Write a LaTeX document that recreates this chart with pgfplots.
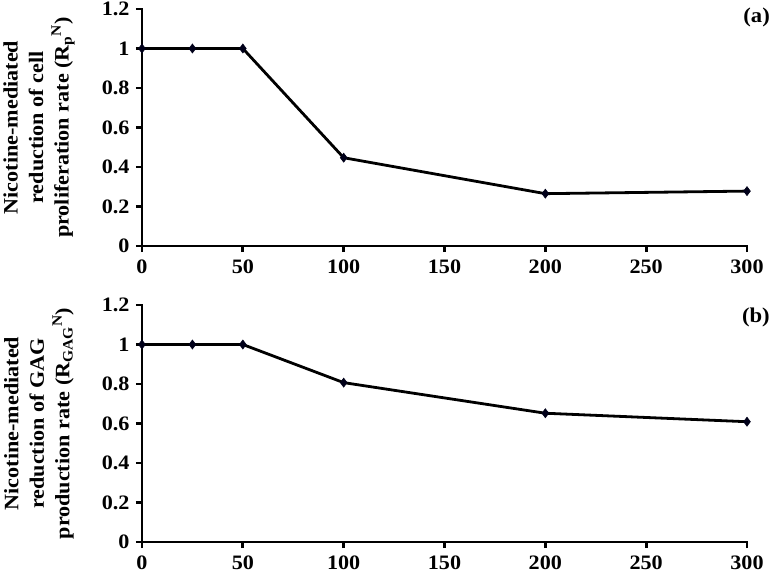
\documentclass[border=0pt]{standalone}
\usepackage{fontspec}
\setmainfont{Liberation Serif}[FakeStretch=1.08]
\usepackage{pgfplots}
\pgfplotsset{compat=1.18}

\pgfplotsset{
  panel/.style={
    scale only axis,
    width=605pt, height=237pt,
    xmin=0, xmax=300, ymin=0, ymax=1.2,
    axis x line*=bottom, axis y line*=left,
    axis line style={line width=2.8pt, line cap=rect},
    every tick/.style={line width=2.8pt, black},
    major tick length=6pt,
    tick align=outside,
    xtick={0,50,...,300},
    ytick={0,0.2,...,1.2},
    /pgf/number format/assume math mode=true,
    /pgf/number format/fixed,
    tick label style={font=\bfseries\fontsize{20.5}{20.5}\selectfont},
    yticklabel style={xshift=-3pt},
    xticklabel style={yshift=-4pt},
    ylabel style={at={(axis description cs:0,0.5)}, anchor=center,
      yshift=103pt, align=center, font=\bfseries\fontsize{20.5}{25.5}\selectfont},
    clip=false,
  },
  curve/.style={black, line width=2.8pt, mark=diamond*, mark size=4.5pt,
    mark options={fill=black!90!blue, draw=black!90!blue, line width=0.6pt}},
}

\begin{document}
\begin{tikzpicture}
\path[use as bounding box] (-142pt,-32pt) rectangle (629pt,542pt);

\begin{axis}[panel, at={(0,296pt)}, anchor=south west,
  ylabel={Nicotine-mediated\\reduction of cell\\proliferation rate (R\textsubscript{p}\textsuperscript{N})}]
  \addplot[curve] coordinates {(0,1) (25,1) (50,1) (100,0.447) (200,0.265) (300,0.278)};
  \node[anchor=north east, font=\bfseries\fontsize{21}{21}\selectfont, xshift=23pt, yshift=1pt, inner sep=0pt]
    at (rel axis cs:1,1) {(a)};
\end{axis}

\begin{axis}[panel, at={(0,0)}, anchor=south west,
  ylabel={Nicotine-mediated\\reduction of GAG\\production rate (R\textsubscript{GAG}\textsuperscript{N})}]
  \addplot[curve] coordinates {(0,1) (25,1) (50,1) (100,0.807) (200,0.652) (300,0.609)};
  \node[anchor=north east, font=\bfseries\fontsize{21}{21}\selectfont, xshift=23pt, yshift=-3pt, inner sep=0pt]
    at (rel axis cs:1,1) {(b)};
\end{axis}
\end{tikzpicture}
\end{document}
